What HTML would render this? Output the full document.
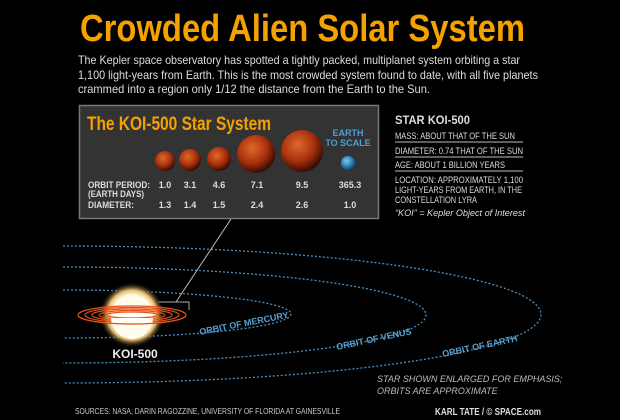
<!DOCTYPE html>
<html><head><meta charset="utf-8"><style>
body{margin:0;background:#000;}
svg{display:block;font-family:"Liberation Sans",sans-serif;}
</style></head><body>
<svg width="620" height="420" viewBox="0 0 620 420">
<defs>
<radialGradient id="pl" cx="40%" cy="35%" r="65%"><stop offset="0" stop-color="#e0682a"/><stop offset="0.6" stop-color="#a8300e"/><stop offset="1" stop-color="#3a0c02"/></radialGradient>
<radialGradient id="ea" cx="40%" cy="35%" r="65%"><stop offset="0" stop-color="#6fd0ff"/><stop offset="1" stop-color="#0a4a80"/></radialGradient>
<radialGradient id="st" cx="50%" cy="50%" r="50%"><stop offset="0" stop-color="#fff"/><stop offset="0.6" stop-color="#fffbe8"/><stop offset="0.75" stop-color="#e8c070"/><stop offset="1" stop-color="#000" stop-opacity="0"/></radialGradient>
</defs>
<rect width="620" height="420" fill="#000"/>
<text x="80" y="41" fill="#f5a100" font-size="38" font-weight="bold" textLength="445" lengthAdjust="spacingAndGlyphs">Crowded Alien Solar System</text>
<g fill="#ddd" font-size="12">
<text x="78" y="64" textLength="442" lengthAdjust="spacingAndGlyphs">The Kepler space observatory has spotted a tightly packed, multiplanet system orbiting a star</text>
<text x="78" y="79" textLength="460" lengthAdjust="spacingAndGlyphs">1,100 light-years from Earth. This is the most crowded system found to date, with all five planets</text>
<text x="78" y="93" textLength="352" lengthAdjust="spacingAndGlyphs">crammed into a region only 1/12 the distance from the Earth to the Sun.</text>
</g>
<rect x="79.5" y="105.5" width="299" height="113" fill="#333" stroke="#777" stroke-width="1.5"/>
<text x="87" y="130" fill="#f5a100" font-size="19" font-weight="bold" textLength="184" lengthAdjust="spacingAndGlyphs">The KOI-500 Star System</text>
<circle cx="165" cy="161" r="10" fill="url(#pl)"/>
<circle cx="190" cy="160" r="11" fill="url(#pl)"/>
<circle cx="219" cy="159" r="12" fill="url(#pl)"/>
<circle cx="256" cy="154" r="19" fill="url(#pl)"/>
<circle cx="302" cy="151" r="21" fill="url(#pl)"/>
<circle cx="348" cy="163" r="7" fill="url(#ea)"/>
<g fill="#4a9fd6" font-size="9" font-weight="bold" text-anchor="middle"><text x="348" y="136">EARTH</text><text x="348" y="146">TO SCALE</text></g>
<g fill="#ddd" font-size="9" font-weight="bold">
<text x="88" y="188" textLength="62" lengthAdjust="spacingAndGlyphs">ORBIT PERIOD:</text><text x="88" y="197" textLength="56" lengthAdjust="spacingAndGlyphs">(EARTH DAYS)</text><text x="88" y="208" textLength="46" lengthAdjust="spacingAndGlyphs">DIAMETER:</text>
<g text-anchor="middle">
<text x="165" y="188">1.0</text><text x="190" y="188">3.1</text><text x="219" y="188">4.6</text><text x="257" y="188">7.1</text><text x="302" y="188">9.5</text><text x="350" y="188">365.3</text>
<text x="165" y="208">1.3</text><text x="190" y="208">1.4</text><text x="219" y="208">1.5</text><text x="257" y="208">2.4</text><text x="302" y="208">2.6</text><text x="350" y="208">1.0</text>
</g></g>
<g fill="#ddd" font-size="9">
<text x="395" y="124" font-size="12" font-weight="bold" textLength="75" lengthAdjust="spacingAndGlyphs">STAR KOI-500</text>
<text x="395" y="139" textLength="120" lengthAdjust="spacingAndGlyphs">MASS: ABOUT THAT OF THE SUN</text>
<text x="395" y="154" textLength="128" lengthAdjust="spacingAndGlyphs">DIAMETER: 0.74 THAT OF THE SUN</text>
<text x="395" y="168" textLength="110" lengthAdjust="spacingAndGlyphs">AGE: ABOUT 1 BILLION YEARS</text>
<text x="395" y="183" textLength="128" lengthAdjust="spacingAndGlyphs">LOCATION: APPROXIMATELY 1,100</text>
<text x="395" y="193" textLength="127" lengthAdjust="spacingAndGlyphs">LIGHT-YEARS FROM EARTH, IN THE</text>
<text x="395" y="203" textLength="82" lengthAdjust="spacingAndGlyphs">CONSTELLATION LYRA</text>
<text x="395" y="216" font-style="italic" textLength="130" lengthAdjust="spacingAndGlyphs">“KOI” =  Kepler Object of Interest</text>
</g>
<g stroke="#bbb" stroke-width="1"><line x1="395" y1="142" x2="523" y2="142"/><line x1="395" y1="157" x2="523" y2="157"/><line x1="395" y1="171" x2="523" y2="171"/></g>
<g fill="none" stroke="#4a8fc0" stroke-width="1.3" stroke-dasharray="2,2">
<path d="M63 290 A228 24 0 0 1 63 338"/>
<path d="M63 267 A363 48 0 0 1 63 363"/>
<path d="M63 246 A478 68.5 0 0 1 63 383"/>
</g>
<g fill="#5a9fcf" font-size="9" font-weight="bold">
<text transform="translate(200,335) rotate(-11)">ORBIT OF MERCURY</text>
<text transform="translate(337,350) rotate(-12)">ORBIT OF VENUS</text>
<text transform="translate(443,357) rotate(-12)">ORBIT OF EARTH</text>
</g>
<line x1="176" y1="302" x2="231" y2="219" stroke="#bbb" stroke-width="1"/>
<path d="M158 302 H189 V310" fill="none" stroke="#aaa" stroke-width="1"/>
<circle cx="132" cy="315" r="33" fill="url(#st)"/>
<g fill="none" stroke="#e8501a" stroke-width="1.2">
<ellipse cx="132" cy="315" rx="54" ry="9"/><ellipse cx="132" cy="315" rx="47" ry="7.5"/><ellipse cx="132" cy="315" rx="40" ry="6"/><ellipse cx="132" cy="315" rx="33" ry="4.5"/><ellipse cx="132" cy="315" rx="26" ry="3"/>
</g>
<path d="M111 318 A21 21 0 0 0 153 318 Z" fill="#fffdf0"/>
<g fill="none" stroke="#e8501a" stroke-width="1.2"><path d="M78 315 A54 9 0 0 0 186 315"/></g>
<text x="135" y="358" fill="#eee" font-size="12" font-weight="bold" text-anchor="middle">KOI-500</text>
<g fill="#bbb" font-size="9" font-style="italic"><text x="377" y="382">STAR SHOWN ENLARGED FOR EMPHASIS;</text><text x="377" y="394">ORBITS ARE APPROXIMATE</text></g>
<text x="75" y="414" fill="#ccc" font-size="8" textLength="265" lengthAdjust="spacingAndGlyphs">SOURCES: NASA; DARIN RAGOZZINE, UNIVERSITY OF FLORIDA AT GAINESVILLE</text>
<text x="435" y="415" fill="#ddd" font-size="10" font-weight="bold" textLength="106" lengthAdjust="spacingAndGlyphs">KARL TATE / © SPACE.com</text>
</svg>
</body></html>
